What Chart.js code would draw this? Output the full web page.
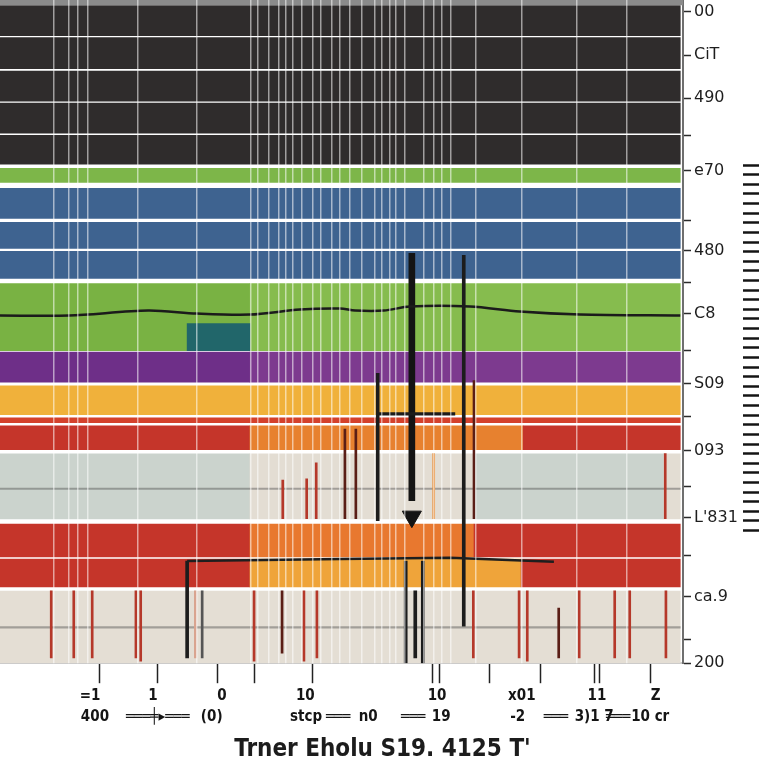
<!DOCTYPE html>
<html><head><meta charset="utf-8">
<script src="https://cdn.jsdelivr.net/npm/chart.js@4"></script>
<style>html,body{margin:0;padding:0;background:#fff;}#wrap{width:768px;height:768px;position:relative;}</style>
</head><body><div id="wrap"><canvas id="c"></canvas></div>
<script>
// ---------- DATA (x: 0-100 across the plot, y: 0-100 down the plot) ----------
const bandNames   = ['frame','dark1','dark2','dark3','dark4','dark5','greenThin','blue1','blue2','blue3','green','purple','yellow','redThin','red','grey','red2a','red2b','beige','teal'];
const bandCenters = [0.38, 3.10, 8.01, 12.99, 17.82, 22.58, 26.44, 30.66, 35.50, 39.95, 47.81, 55.36, 60.35, 63.37, 66.01, 73.34, 81.50, 86.40, 94.56, 50.83];

const segBand = [0,1,2,3,4,5,6,7,8,9,10,10,11,11,12,13,14,14,14,15,15,15,15,16,16,16,17,17,17,18,19];
const segFrom = [0,0,0,0,0,0,0,0,0,0,0,36.6,0,36.6,0,0,0,36.6,76.6,0,36.6,69.4,97.2,0,36.6,69.4,0,36.6,76.3,0,27.4];
const segTo   = [100,99.6,99.6,99.6,99.6,99.6,99.6,99.6,99.6,99.6,36.6,99.6,36.6,99.6,99.6,99.6,36.6,76.6,99.6,36.6,69.4,97.2,99.6,36.6,69.4,99.6,36.6,76.3,99.6,99.6,36.6];

const hairY = [73.7, 94.6];

const spikeX      = [7.5,10.8,13.5,19.9,20.6,37.2,44.5,46.4,69.3,76.0,77.2,84.8,90.0,92.2,97.5, 41.4,44.9,46.3,63.5,97.4, 29.6,41.3,81.8,50.5,52.1,69.4,28.6];
const spikeTop    = [89.1,89.1,89.1,89.1,89.1,89.1,89.1,89.1,89.1,89.1,89.1,89.1,89.1,89.1,89.1, 72.4,72.2,69.8,68.4,68.4, 89.1,89.1,91.7,64.7,64.7,57.4,89.1];
const spikeBottom = [99.2,99.2,99.2,99.2,99.7,99.7,99.7,99.2,99.2,99.2,99.7,99.2,99.2,99.2,99.2, 78.2,78.2,78.2,78.2,78.2, 99.2,98.5,99.2,78.2,78.2,78.2,99.2];

const blackX      = [55.3, 67.9, 59.4, 60.8, 61.9, 27.4];
const blackTop    = [56.3, 38.5, 84.6, 89.1, 84.6, 84.6];
const blackBottom = [78.5, 94.4, 100, 99.2, 100, 99.2];

const crossY = [62.4];
const crossFrom = [55.3];
const crossTo = [66.6];

const arrowX = [60.3];
const arrowTop = [38.2];
const arrowBottom = [75.5];
const arrowTipY = [77.9];

const waveX = [0,10.1,21.7,28.8,36.6,43.9,49.8,52.0,56.2,60.0,68.8,76.1,84.9,99.6];
const waveY = [47.58,47.58,46.83,47.28,47.43,46.68,46.53,46.83,46.83,46.22,46.22,46.98,47.43,47.58];

const lowLineX = [27.4, 49.8, 65.9, 81.1];
const lowLineY = [84.6, 84.3, 84.1, 84.7];

const gridX = [7.8,10.1,11.4,12.9,20.2,28.8,36.7,37.8,39.4,40.8,41.9,42.9,44.2,45.8,47.0,48.6,49.8,51.2,53.0,54.9,55.9,57.0,58.0,59.2,62.1,63.5,64.7,66.0,69.7,76.4,84.5,91.8];

const yTickVals = [1.8, 8.3, 14.8, 20.4, 25.7, 33.2, 37.8, 42.6, 47.3, 52.9, 57.9, 62.8, 68.0, 73.3, 78.1, 83.8, 90.0, 96.4, 100];
const yTickText = ['00','CiT','490','','e70','','480','','C8','','S09','','093','',"L'831",'','ca.9','','200'];

const xTopPos  = [13.2, 22.4, 32.5, 44.7, 64.0, 76.4, 87.4, 96.0];
const xTopText = ['=1','1','0','10','10','x01','11','Z'];
const xSubPos  = [13.9, 23.1, 31.0, 44.8, 49.5, 53.9, 60.5, 64.6, 75.8, 81.4, 87.0, 90.5, 95.2];
const xSubText = ['400','═══╪▸═══','(0)','stcp','═══','n0','═══','19','-2','═══','3)1 7','═══','10 cr'];
const xMarkPos = [14.6, 23.1, 31.9, 37.3, 45.7, 63.3, 64.4, 71.6, 79.1, 87.0, 87.8, 95.2];

const titleText = "Trner Eholu S19. 4125 T'";

// ---------- STYLES ----------
const bandThickness = [5,30,31,30,30,29,14,30,26,27,67,30,29,5,24,65,33,28,72,27];
const segColor = ['#8b8b8b','#2f2c2c','#2f2c2c','#2f2c2c','#2f2c2c','#2f2c2c','#7db649','#3e6390','#3e6390','#3e6390',
  '#79b243','#86bc4e','#6e2f88','#7d3a8f','#f0b13b','#d4412b','#c5352a','#e7812f','#c5352a',
  '#cbd3cd','#e3ddd3','#cbd3cd','#e3ddd3','#c5352a','#e8782f','#c5352a','#c5352a','#efa43a','#c5352a','#e4ded4','#21666a'];
const spikeColor = spikeX.map((_, i) => i < 15 ? '#b5382a' : (i < 20 ? (i === 18 ? '#e5903f' : '#b5382a') : (i === 26 ? '#d9a48f' : (i === 20 ? '#555555' : '#5a1e16'))));

// ---------- BUILD ----------
const datasets = [];
bandNames.forEach((name, b) => {
  const idx = segBand.map((v, i) => v === b ? i : -1).filter(i => i >= 0);
  datasets.push({
    type: 'bar', label: name, indexAxis: 'y', xAxisID: 'xb', yAxisID: 'yv', grouped: false,
    order: b === 19 ? 4 : 5, barThickness: bandThickness[b], borderWidth: 0,
    data: idx.map(i => ({ x: [segFrom[i], segTo[i]], y: bandCenters[b] })),
    backgroundColor: idx.map(i => segColor[i])
  });
});
datasets.push({
  type: 'bar', label: 'hairlines', indexAxis: 'y', xAxisID: 'xb', yAxisID: 'yv', grouped: false, order: 3,
  barThickness: 1.5, borderWidth: 0, backgroundColor: 'rgba(80,80,80,0.45)',
  data: hairY.map(y => ({ x: [0, 99.6], y }))
});
datasets.push({
  type: 'bar', label: 'spikes', indexAxis: 'x', xAxisID: 'xb', yAxisID: 'yv', grouped: false, order: 2,
  barThickness: 2, borderWidth: 0, backgroundColor: spikeColor,
  data: spikeX.map((x, i) => ({ x, y: [spikeTop[i], spikeBottom[i]] }))
});
datasets.push({
  type: 'bar', label: 'black', indexAxis: 'x', xAxisID: 'xb', yAxisID: 'yv', grouped: false, order: 1,
  barThickness: 3, borderWidth: 0, backgroundColor: '#1c1c1c',
  data: blackX.map((x, i) => ({ x, y: [blackTop[i], blackBottom[i]] }))
});
datasets.push({
  type: 'bar', label: 'cross', indexAxis: 'y', xAxisID: 'xb', yAxisID: 'yv', grouped: false, order: 1,
  barThickness: 2.5, borderWidth: 0, backgroundColor: '#1c1c1c',
  data: crossY.map((y, i) => ({ x: [crossFrom[i], crossTo[i]], y }))
});
datasets.push({
  type: 'bar', label: 'arrow', indexAxis: 'x', xAxisID: 'xb', yAxisID: 'yv', grouped: false, order: 1,
  barThickness: 6, borderWidth: 0, backgroundColor: '#141414',
  data: arrowX.map((x, i) => ({ x, y: [arrowTop[i], arrowBottom[i]] }))
});
datasets.push({
  type: 'line', label: 'arrowHead', xAxisID: 'xb', yAxisID: 'yv', order: 0, showLine: false,
  pointStyle: 'triangle', pointRadius: 11, rotation: 180, pointBackgroundColor: '#141414', pointBorderColor: '#141414',
  data: arrowX.map((x, i) => ({ x, y: arrowTipY[i] }))
});
datasets.push({
  type: 'line', label: 'wave', xAxisID: 'xb', yAxisID: 'yv', order: 0, borderColor: '#1b1b1b', borderWidth: 2.5,
  pointRadius: 0, tension: 0.3, data: waveX.map((x, i) => ({ x, y: waveY[i] }))
});
datasets.push({
  type: 'line', label: 'lowLine', xAxisID: 'xb', yAxisID: 'yv', order: 0, borderColor: '#1e1e1e', borderWidth: 2.5,
  pointRadius: 0, tension: 0, data: lowLineX.map((x, i) => ({ x, y: lowLineY[i] }))
});

const xbTicks = [];
xTopPos.forEach((v, i) => xbTicks.push({ value: v, label: [xTopText[i], ''], mark: false }));
xSubPos.forEach((v, i) => xbTicks.push({ value: v, label: ['', xSubText[i]], mark: false }));
xMarkPos.forEach(v => xbTicks.push({ value: v, label: ['', ''], mark: true }));

const rulerTicks = [];
for (let v = 24.9; v <= 80.2; v += 1.45) rulerTicks.push(v);

new Chart(document.getElementById('c'), {
  type: 'bar',
  data: { datasets },
  options: {
    responsive: true, maintainAspectRatio: false, animation: false, events: [],
    layout: { autoPadding: false, padding: { left: 0, right: 3, top: 0, bottom: 0 } },
    plugins: {
      legend: { display: false }, tooltip: { enabled: false },
      title: { display: true, text: titleText, position: 'bottom', color: '#1c1c1c',
        font: { family: "'Liberation Sans Narrow', 'DejaVu Sans Condensed', sans-serif", size: 24, weight: 'bold', lineHeight: 1.2 },
        padding: { top: 8, bottom: 4 } }
    },
    scales: {
      xg: { type: 'linear', axis: 'x', position: 'top', min: 0, max: 100, offset: false,
        grid: { color: 'rgba(255,255,255,0.55)', lineWidth: 1.5, drawTicks: false, offset: false, z: 1 },
        border: { display: false }, ticks: { display: false },
        afterBuildTicks: s => { s.ticks = gridX.map(v => ({ value: v })); },
        afterFit: s => { s.height = 0; s.paddingLeft = 0; s.paddingRight = 0; } },
      xb: { type: 'linear', axis: 'x', position: 'bottom', min: 0, max: 100, offset: false,
        grid: { drawOnChartArea: false, drawTicks: true, tickLength: 20, tickWidth: 1.5, offset: false,
          tickColor: ctx => (xbTicks[ctx.index] && xbTicks[ctx.index].mark) ? '#222222' : 'rgba(0,0,0,0)' },
        border: { display: true, color: '#c9c9c9', width: 2 },
        ticks: { autoSkip: false, maxRotation: 0, minRotation: 0, padding: 2, color: '#151515',
          font: { size: 15, weight: 'bold', family: "'DejaVu Sans Condensed', 'DejaVu Sans', sans-serif", lineHeight: 1.4 },
          callback: (v, i) => xbTicks[i] ? xbTicks[i].label : '' },
        afterBuildTicks: s => { s.ticks = xbTicks.map(t => ({ value: t.value })); },
        afterFit: s => { s.height = 64; s.paddingLeft = 0; s.paddingRight = 0; } },
      yv: { type: 'linear', axis: 'y', position: 'right', min: 0, max: 100, reverse: true, offset: false, weight: 0,
        grid: { drawOnChartArea: false, tickLength: 8, tickWidth: 1.5, tickColor: '#2a2a2a', offset: false },
        border: { display: true, color: '#6f6f6f', width: 2 },
        ticks: { autoSkip: false, padding: 3, color: '#1e1e1e', font: { size: 16, family: "'DejaVu Sans', sans-serif" },
          callback: (v, i) => yTickText[i] !== undefined ? yTickText[i] : '' },
        afterBuildTicks: s => { s.ticks = yTickVals.map(v => ({ value: v })); },
        afterFit: s => { s.width = 60; s.paddingTop = 0; s.paddingBottom = 0; } },
      yr: { type: 'linear', axis: 'y', position: 'right', min: 0, max: 100, reverse: true, offset: false, weight: 1,
        grid: { drawOnChartArea: false, tickLength: 16, tickWidth: 2.5, tickColor: '#141414', offset: false },
        border: { display: false }, ticks: { display: false },
        afterBuildTicks: s => { s.ticks = rulerTicks.map(v => ({ value: v })); },
        afterFit: s => { s.width = 22; s.paddingTop = 0; s.paddingBottom = 0; } }
    }
  }
});
</script>
</body></html>
